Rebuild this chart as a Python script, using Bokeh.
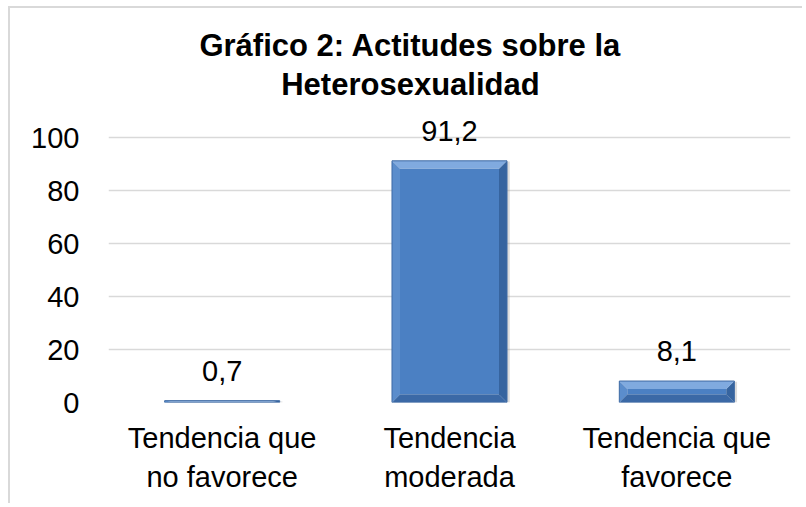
from bokeh.plotting import figure
from bokeh.models import Range1d, ColumnDataSource, LinearAxis, FixedTicker
from bokeh.core.properties import value
from bokeh.embed import file_html
from bokeh.resources import INLINE

# ---- data ----
categories = ["Tendencia que no favorece", "Tendencia moderada", "Tendencia que favorece"]
label_line1 = ["Tendencia que", "Tendencia", "Tendencia que"]
label_line2 = ["no favorece", "moderada", "favorece"]
values = [0.7, 91.2, 8.1]
value_labels = [f"{v:.1f}".replace(".", ",") for v in values]
title_lines = ["Gráfico 2: Actitudes sobre la", "Heterosexualidad"]
y_ticks = [0, 20, 40, 60, 80, 100]

FONT = "Liberation Sans"
positions = list(range(len(categories)))

# vertical scale: 2.65 px per unit; extra headroom above 100 holds the title
PX = 2.65
y_top = 100 + 129 / PX

p = figure(
    x_range=Range1d(-0.5, len(categories) - 0.5),
    y_range=Range1d(0, y_top),
    width=794, height=497,
    output_backend="svg", toolbar_location=None,
    min_border_left=98, min_border_right=14, min_border_top=0, min_border_bottom=103,
)
p.title = None
p.styles = {"margin": "6px 0 0 8px", "border-top": "2px solid #d9d9d9", "border-left": "2px solid #d9d9d9"}
p.outline_line_color = None
p.background_fill_color = "white"
p.border_fill_color = "white"

# y axis
p.yaxis.ticker = y_ticks
p.yaxis.axis_line_color = None
p.yaxis.major_tick_line_color = None
p.yaxis.minor_tick_line_color = None
p.yaxis.major_tick_in = 0
p.yaxis.major_tick_out = 0
p.yaxis.major_label_standoff = 29
p.yaxis.major_label_text_font = FONT
p.yaxis.major_label_text_font_size = "29px"
p.yaxis.major_label_text_color = "black"

# x axis: two stacked axes, one per label line
def style_xaxis(ax, standoff, lines):
    ax.ticker = FixedTicker(ticks=positions)
    ax.axis_line_color = None
    ax.major_tick_line_color = None
    ax.minor_tick_line_color = None
    ax.major_tick_in = 0
    ax.major_tick_out = 0
    ax.major_label_standoff = standoff
    ax.major_label_text_font = FONT
    ax.major_label_text_font_size = "29px"
    ax.major_label_text_color = "black"
    ax.major_label_overrides = {i: s for i, s in zip(positions, lines)}

style_xaxis(p.xaxis[0], 19, label_line1)
xa2 = LinearAxis()
style_xaxis(xa2, 4, label_line2)
p.add_layout(xa2, "below")

p.xgrid.grid_line_color = None
p.ygrid.grid_line_color = "#d9d9d9"
p.ygrid.grid_line_width = 1.5

# ---- bars with bevel ----
width = 0.506
bx = 8 / 227.0

faces = dict(left=[], right=[], top=[], bottom=[])
tops_x, tops_y, bots_x, bots_y = [], [], [], []
lefts_x, lefts_y, rights_x, rights_y = [], [], [], []
for c, v in zip(positions, values):
    x0, x1 = c - width / 2, c + width / 2
    by = min(8 / PX, v / 2)
    faces["left"].append(x0 + bx); faces["right"].append(x1 - bx)
    faces["bottom"].append(by); faces["top"].append(v - by)
    tops_x.append([x0, x1, x1 - bx, x0 + bx]); tops_y.append([v, v, v - by, v - by])
    bots_x.append([x0, x1, x1 - bx, x0 + bx]); bots_y.append([0, 0, by, by])
    lefts_x.append([x0, x0, x0 + bx, x0 + bx]); lefts_y.append([0, v, v - by, by])
    rights_x.append([x1, x1, x1 - bx, x1 - bx]); rights_y.append([0, v, v - by, by])

# soft shadow
p.quad(left=[c - width / 2 + 0.008 for c in positions], right=[c + width / 2 + 0.012 for c in positions],
       bottom=[0] * 3, top=[v - 0.3 for v in values], fill_color="#9a9a9a", fill_alpha=0.35, line_color=None)
p.quad(left=faces["left"], right=faces["right"], bottom=faces["bottom"], top=faces["top"],
       fill_color="#4b80c3", line_color=None)
p.patches(xs=lefts_x, ys=lefts_y, fill_color="#5b8dcc", line_color=None)
p.patches(xs=rights_x, ys=rights_y, fill_color="#36649f", line_color=None)
p.patches(xs=bots_x, ys=bots_y, fill_color="#3b69a6", line_color=None)
p.patches(xs=tops_x, ys=tops_y, fill_color="#80aadf", line_color=None)
p.quad(left=[c - width / 2 for c in positions], right=[c + width / 2 for c in positions],
       bottom=[0] * 3, top=values, fill_color=None, line_color="#3e6aa4", line_width=1)

# data labels
src = ColumnDataSource(dict(x=positions, y=values, t=value_labels))
p.text(x="x", y="y", text="t", source=src, text_align="center", text_baseline="alphabetic",
       y_offset=-30, text_font_size="29px", text_color="black", text_font=value(FONT))

# title: two bold lines centred over the whole chart area
title_x = 1 - 39 / 227.0
title_y = [100 + (137 - 45) / PX, 100 + (137 - 84) / PX]
tsrc = ColumnDataSource(dict(x=[title_x, title_x], y=title_y, t=title_lines))
p.text(x="x", y="y", text="t", source=tsrc, text_align="center", text_baseline="alphabetic",
       text_font_size="31px", text_font_style="bold", text_color="black", text_font=value(FONT))

open("out.html", "w").write(file_html(p, INLINE))
